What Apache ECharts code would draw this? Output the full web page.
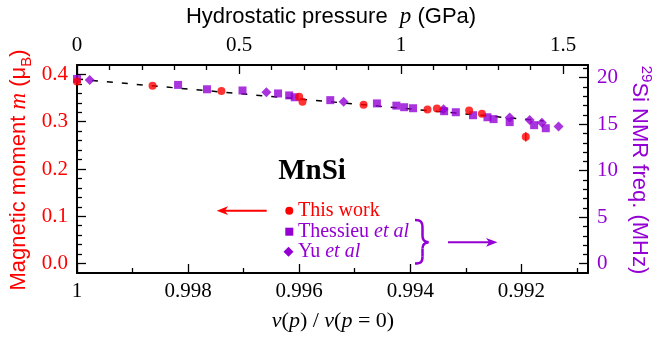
<!DOCTYPE html>
<html><head><meta charset="utf-8">
<script src="https://cdn.jsdelivr.net/npm/echarts@6/dist/echarts.min.js"></script>
<style>html,body{margin:0;padding:0;background:#fff}#c{width:658px;height:338px}</style>
</head><body><div id="c"></div>
<script>
// ---- data ----
const vThisWork = [1.0000, 0.99864, 0.99740, 0.99600, 0.99594, 0.99484, 0.99369, 0.99352, 0.99294, 0.99271, 0.99192];
const mThisWork = [0.385, 0.376, 0.365, 0.353, 0.342, 0.336, 0.326, 0.328, 0.324, 0.317, 0.268];
const mThisWorkErr = [0, 0, 0, 0, 0, 0, 0, 0, 0, 0, 0.010];

const vThessieu = [1.0000, 0.99818, 0.99766, 0.99702, 0.99638, 0.99618, 0.99608, 0.99544, 0.99460, 0.99425, 0.99411, 0.99395, 0.99339, 0.99318, 0.99287, 0.99261, 0.99250, 0.99221, 0.99177, 0.99156];
const fThessieu = [19.87, 19.23, 18.76, 18.63, 18.31, 18.10, 17.90, 17.59, 17.24, 17.00, 16.83, 16.72, 16.40, 16.29, 15.97, 15.75, 15.55, 15.23, 14.90, 14.57];

const vYu = [0.99977, 0.99659, 0.99520, 0.99340, 0.99221, 0.99185, 0.99163, 0.99133];
const fYu = [19.76, 18.44, 17.43, 16.61, 15.73, 15.46, 15.17, 14.76];

const vFit = [1.0, 0.9916];
const mFit = [0.3903, 0.3017];

// ---- axes ----
const vMin = 0.9908, vMax = 1.0;
const vMajor = [1.0, 0.998, 0.996, 0.994, 0.992];
const vMinor = [0.999, 0.997, 0.995, 0.993, 0.991];
const pMin = 0, pMax = 1.577;
const pMajor = [0, 0.5, 1, 1.5];
const pMinor = [0.1, 0.2, 0.3, 0.4, 0.6, 0.7, 0.8, 0.9, 1.1, 1.2, 1.3, 1.4];
const mMin = -0.02, mMax = 0.42;
const mMajor = [0, 0.1, 0.2, 0.3, 0.4];
const mMinor = [0.02, 0.04, 0.06, 0.08, 0.12, 0.14, 0.16, 0.18, 0.22, 0.24, 0.26, 0.28, 0.32, 0.34, 0.36, 0.38];
const fMin = -1, fMax = 21.37;
const fMajor = [0, 5, 10, 15, 20];
const fMinor = [1, 2, 3, 4, 6, 7, 8, 9, 11, 12, 13, 14, 16, 17, 18, 19, 21];

const RED = '#ff0000', PURPLE = '#9400d3';
const SERIF = 'Liberation Serif', SANS = 'Liberation Sans';

const zip = (a, b) => a.map((x, i) => [x, b[i]]);

function axisBase(extra) {
  return Object.assign({
    type: 'value', splitLine: { show: false },
    axisLine: { show: false, onZero: false, lineStyle: { color: '#000', width: 2 } }
  }, extra);
}
const tickStyle = { color: '#000', width: 1.3 };

function bz(x1, y1, c1x, c1y, c2x, c2y, x2, y2) {
  return { type: 'bezierCurve', shape: { x1: x1, y1: y1, cpx1: c1x, cpy1: c1y, cpx2: c2x, cpy2: c2y, x2: x2, y2: y2 },
    style: { stroke: PURPLE, lineWidth: 2.5, fill: null } };
}

const chart = echarts.init(document.getElementById('c'), null, { renderer: 'canvas' });
chart.setOption({
  animation: false,
  backgroundColor: '#fff',
  grid: { left: 77, right: 70, top: 65, bottom: 65 },
  xAxis: [
    axisBase({ position: 'bottom', min: vMin, max: vMax, inverse: true,
      axisLine: { show: true, onZero: false, lineStyle: { color: '#000', width: 2 } },
      axisTick: { inside: true, length: 9, customValues: vMajor, lineStyle: tickStyle },
      axisLabel: { customValues: vMajor, margin: 8, color: '#000', fontFamily: SERIF, fontSize: 21,
        formatter: v => (v === 1 ? '1' : v.toFixed(3)) } }),
    axisBase({ position: 'bottom', min: vMin, max: vMax, inverse: true,
      axisTick: { inside: true, length: 5, customValues: vMinor, lineStyle: tickStyle },
      axisLabel: { show: false } }),
    axisBase({ position: 'top', min: pMin, max: pMax,
      axisLine: { show: true, onZero: false, lineStyle: { color: '#000', width: 2 } },
      axisTick: { inside: true, length: 9, customValues: pMajor, lineStyle: tickStyle },
      axisLabel: { customValues: pMajor, margin: 9, color: '#000', fontFamily: SERIF, fontSize: 21,
        formatter: v => String(v) } }),
    axisBase({ position: 'top', min: pMin, max: pMax,
      axisTick: { inside: true, length: 5, customValues: pMinor, lineStyle: tickStyle },
      axisLabel: { show: false } })
  ],
  yAxis: [
    axisBase({ position: 'left', min: mMin, max: mMax,
      axisLine: { show: true, onZero: false, lineStyle: { color: '#000', width: 2 } },
      axisTick: { inside: true, length: 9, customValues: mMajor, lineStyle: tickStyle },
      axisLabel: { customValues: mMajor, margin: 9, color: RED, fontFamily: SERIF, fontSize: 21,
        formatter: v => v.toFixed(1) } }),
    axisBase({ position: 'left', min: mMin, max: mMax,
      axisTick: { inside: true, length: 5, customValues: mMinor, lineStyle: tickStyle },
      axisLabel: { show: false } }),
    axisBase({ position: 'right', min: fMin, max: fMax,
      axisLine: { show: true, onZero: false, lineStyle: { color: '#000', width: 2 } },
      axisTick: { inside: true, length: 9, customValues: fMajor, lineStyle: tickStyle },
      axisLabel: { customValues: fMajor, margin: 9, color: PURPLE, fontFamily: SERIF, fontSize: 21,
        formatter: v => String(v) } }),
    axisBase({ position: 'right', min: fMin, max: fMax,
      axisTick: { inside: true, length: 5, customValues: fMinor, lineStyle: tickStyle },
      axisLabel: { show: false } })
  ],
  series: [
    { type: 'line', name: 'fit', xAxisIndex: 0, yAxisIndex: 0, data: zip(vFit, mFit),
      symbol: 'none', z: 1, lineStyle: { color: '#000', width: 1.5, type: [6, 9] } },
    { type: 'custom', name: 'err', xAxisIndex: 0, yAxisIndex: 0, z: 2,
      data: vThisWork.map((v, i) => [v, mThisWork[i], mThisWorkErr[i]]),
      renderItem: (params, api) => {
        const e = api.value(2);
        if (!e) return null;
        const a = api.coord([api.value(0), api.value(1) - e]);
        const b = api.coord([api.value(0), api.value(1) + e]);
        return { type: 'line', shape: { x1: a[0], y1: a[1], x2: b[0], y2: b[1] },
          style: { stroke: RED, lineWidth: 1.5 } };
      } },
    { type: 'scatter', name: 'Thessieu et al', xAxisIndex: 0, yAxisIndex: 2, data: zip(vThessieu, fThessieu),
      symbol: 'rect', symbolSize: 8, z: 3, itemStyle: { color: PURPLE } },
    { type: 'scatter', name: 'Yu et al', xAxisIndex: 0, yAxisIndex: 2, data: zip(vYu, fYu),
      symbol: 'diamond', symbolSize: [10, 10], z: 3, itemStyle: { color: PURPLE } },
    { type: 'scatter', name: 'This work', xAxisIndex: 0, yAxisIndex: 0, data: zip(vThisWork, mThisWork),
      symbol: 'circle', symbolSize: 8, z: 4, itemStyle: { color: RED } }
  ],
  graphic: [
    { type: 'text', x: 331, y: 17, style: {
        text: '{s|Hydrostatic pressure  }{i|p}{s| (GPa)}', align: 'center', verticalAlign: 'middle',
        rich: { s: { fontFamily: SANS, fontSize: 22, fill: '#000' },
                i: { fontFamily: SERIF, fontStyle: 'italic', fontSize: 23, fill: '#000' } } } },
    { type: 'text', x: 333, y: 321, style: {
        text: '{i|v}{n|(}{i|p}{n|) / }{i|v}{n|(}{i|p}{n| = 0)}', align: 'center', verticalAlign: 'middle',
        rich: { n: { fontFamily: SERIF, fontSize: 22, fill: '#000' },
                i: { fontFamily: SERIF, fontStyle: 'italic', fontSize: 22, fill: '#000' } } } },
    { type: 'text', x: 19, y: 170, rotation: Math.PI / 2, style: {
        text: '{s|Magnetic moment }{i|m}{s| (μ}{b|B}{s|)}', align: 'center', verticalAlign: 'middle',
        rich: { s: { fontFamily: SANS, fontSize: 22, fill: RED, lineHeight: 30 },
                i: { fontFamily: SERIF, fontStyle: 'italic', fontSize: 23, fill: RED, lineHeight: 30 },
                b: { fontFamily: SANS, fontSize: 15, fill: RED, lineHeight: 15, verticalAlign: 'bottom' } } } },
    { type: 'text', x: 639, y: 170, rotation: -Math.PI / 2, style: {
        text: '{p|29}{s|Si NMR freq. (MHz)}', align: 'center', verticalAlign: 'middle',
        rich: { s: { fontFamily: SANS, fontSize: 22, fill: PURPLE, lineHeight: 30 },
                p: { fontFamily: SANS, fontSize: 15, fill: PURPLE, lineHeight: 15, verticalAlign: 'top' } } } },
    { type: 'text', x: 312, y: 172, style: { text: 'MnSi', align: 'center', verticalAlign: 'middle',
        fontFamily: SERIF, fontWeight: 'bold', fontSize: 29, fill: '#000' } },
    // legend
    { type: 'circle', shape: { cx: 289.3, cy: 210.7, r: 4 }, style: { fill: RED } },
    { type: 'text', x: 298, y: 210.7, style: { text: 'This work', verticalAlign: 'middle',
        fontFamily: SERIF, fontSize: 20, fill: RED } },
    { type: 'rect', shape: { x: 285.3, y: 227.7, width: 8, height: 8 }, style: { fill: PURPLE } },
    { type: 'text', x: 298, y: 231.7, style: { text: '{n|Thessieu }{i|et al}', verticalAlign: 'middle',
        rich: { n: { fontFamily: SERIF, fontSize: 20, fill: PURPLE },
                i: { fontFamily: SERIF, fontStyle: 'italic', fontSize: 20, fill: PURPLE } } } },
    { type: 'polygon', shape: { points: [[288.5, 246.7], [293.5, 251.7], [288.5, 256.7], [283.5, 251.7]] }, style: { fill: PURPLE } },
    { type: 'text', x: 298, y: 251.7, style: { text: '{n|Yu }{i|et al}', verticalAlign: 'middle',
        rich: { n: { fontFamily: SERIF, fontSize: 20, fill: PURPLE },
                i: { fontFamily: SERIF, fontStyle: 'italic', fontSize: 20, fill: PURPLE } } } },
    // brace
    bz(415, 220, 421, 220, 422.5, 222, 422.5, 228),
    { type: 'line', shape: { x1: 422.5, y1: 228, x2: 422.5, y2: 236 }, style: { stroke: PURPLE, lineWidth: 2.5 } },
    bz(422.5, 236, 422.5, 240, 424, 242, 428.5, 242.3),
    bz(428.5, 242.3, 424, 242.6, 422.5, 244.6, 422.5, 248.6),
    { type: 'line', shape: { x1: 422.5, y1: 248.6, x2: 422.5, y2: 256.6 }, style: { stroke: PURPLE, lineWidth: 2.5 } },
    bz(422.5, 256.6, 422.5, 262, 421, 263.5, 415, 263.5),
    // arrows
    { type: 'line', shape: { x1: 223, y1: 210.7, x2: 266.7, y2: 210.7 }, style: { stroke: RED, lineWidth: 2 } },
    { type: 'polygon', shape: { points: [[216.7, 210.7], [228, 206.3], [225, 210.7], [228, 215.1]] }, style: { fill: RED } },
    { type: 'line', shape: { x1: 448, y1: 242.3, x2: 491, y2: 242.3 }, style: { stroke: PURPLE, lineWidth: 2 } },
    { type: 'polygon', shape: { points: [[497.5, 242.3], [486, 237.9], [489, 242.3], [486, 246.7]] }, style: { fill: PURPLE } }
  ]
});
</script></body></html>
